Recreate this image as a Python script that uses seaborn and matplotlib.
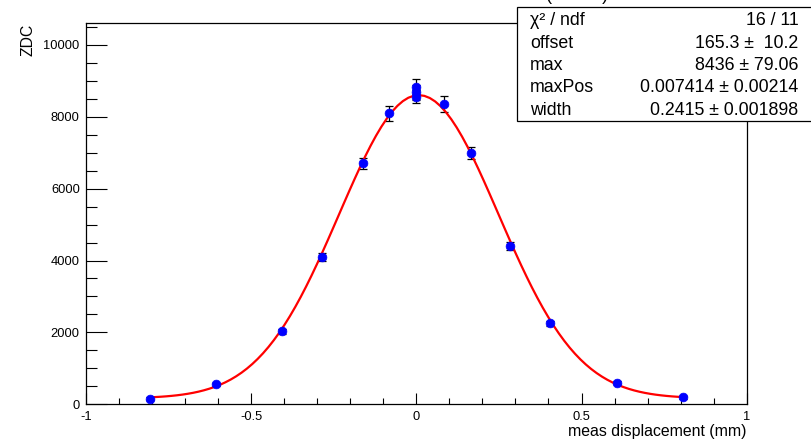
import numpy as np
import pandas as pd
import matplotlib
matplotlib.use("Agg")
import matplotlib.pyplot as plt
from matplotlib.patches import Rectangle
from matplotlib.ticker import MultipleLocator
import seaborn as sns

# ---- data ----
x_pos = [-0.806, -0.606, -0.406, -0.285, -0.163, -0.082, 0.0, 0.0, 0.0,
         0.083, 0.164, 0.285, 0.406, 0.606, 0.806]
zdc = [160, 560, 2030, 4100, 6705, 8100, 8830, 8680, 8560,
       8350, 6985, 4400, 2250, 605, 190]
zdc_err = [35, 45, 70, 110, 160, 205, 210, 200, 185,
           215, 165, 120, 70, 45, 35]

# fit parameters (from stats box)
fit_offset = 165.3
fit_max = 8436
fit_maxpos = 0.007414
fit_width = 0.2415

stat_labels = ["\u03c7\u00b2 / ndf", "offset", "max", "maxPos", "width"]
stat_values = ["16 / 11", "165.3 \u00b1  10.2", "8436 \u00b1 79.06",
               "0.007414 \u00b1 0.00214", "0.2415 \u00b1 0.001898"]

x_label = "meas displacement (mm)"
y_label = "ZDC"

# ---- figure ----
sns.set_theme(style="white")
plt.rcParams['font.family'] = ['Liberation Sans', 'DejaVu Sans']

W, H = 811, 441
fig = plt.figure(figsize=(W / 100, H / 100), dpi=100)
fig.patch.set_facecolor("white")

x0, x1, y0, y1 = 86, 746.7, 404.3, 23.3
ax = fig.add_axes([x0 / W, 1 - y0 / H, (x1 - x0) / W, (y0 - y1) / H])
ax.set_facecolor("white")

df = pd.DataFrame({"x": x_pos, "y": zdc, "err": zdc_err})

# fit curve
xf = np.linspace(min(x_pos), max(x_pos), 100)
yf = fit_offset + fit_max * np.exp(-0.5 * ((xf - fit_maxpos) / fit_width) ** 2)
fit_df = pd.DataFrame({"x": xf, "y": yf})

ax.errorbar(df["x"], df["y"], yerr=df["err"], fmt="none", ecolor="black",
            elinewidth=0.9, capsize=3.2, capthick=0.9, zorder=2)
sns.lineplot(data=fit_df, x="x", y="y", ax=ax, color="#ff0000", linewidth=1.6,
             zorder=3, legend=False)
sns.scatterplot(data=df, x="x", y="y", ax=ax, color="#0000ff", s=40,
                edgecolor="#0000ff", linewidth=0.5, zorder=4, legend=False)

ax.set_xlim(-1, 1)
ax.set_ylim(0, 10600)
ax.set_xlabel("")
ax.set_ylabel("")

ax.xaxis.set_major_locator(MultipleLocator(0.5))
ax.xaxis.set_minor_locator(MultipleLocator(0.1))
ax.yaxis.set_major_locator(MultipleLocator(2000))
ax.yaxis.set_minor_locator(MultipleLocator(500))
ax.set_xticks([-1, -0.5, 0, 0.5, 1])
ax.set_xticklabels(["-1", "-0.5", "0", "0.5", "1"])
ax.set_yticks([0, 2000, 4000, 6000, 8000, 10000])
ax.set_yticklabels(["0", "2000", "4000", "6000", "8000", "10000"])

ax.tick_params(axis="both", which="both", direction="in", colors="black",
               width=0.8, labelsize=9.3, top=False, right=False,
               bottom=True, left=True)
ax.tick_params(axis="x", which="major", length=7.9, pad=4.5)
ax.tick_params(axis="x", which="minor", length=4.1)
ax.tick_params(axis="y", which="major", length=15.1, pad=4.5)
ax.tick_params(axis="y", which="minor", length=7.7)
for s in ax.spines.values():
    s.set_visible(True)
    s.set_color("black")
    s.set_linewidth(0.9)
ax.grid(False)

# axis titles
fig.text(x1 / W, 1 - 431.7 / H, x_label, ha="right", va="center", fontsize=11.4,
         color="black")
fig.text(28.3 / W, 1 - 23.3 / H, y_label, ha="center", va="top", rotation=90,
         fontsize=11.3, color="black")

# partially visible title (cut off at top, as in the reference)
fig.text(577.5 / W, 1 - 0.5 / H, "(          )", ha="center", va="baseline",
         fontsize=13, color="black")

# stats box
bx0, by0, by1 = 516.7, 6.7, 121
rect = Rectangle((bx0 / W, 1 - by1 / H), (W + 10 - bx0) / W, (by1 - by0) / H,
                 transform=fig.transFigure, facecolor="white", edgecolor="black",
                 linewidth=0.9, zorder=10, clip_on=False)
fig.add_artist(rect)
baselines = [25, 47.5, 70, 92.5, 115]
for lab, val, b in zip(stat_labels, stat_values, baselines):
    t1 = fig.text(530 / W, 1 - b / H, lab, ha="left", va="baseline",
                  fontsize=12.8, color="black")
    t2 = fig.text(798.3 / W, 1 - b / H, val, ha="right", va="baseline",
                  fontsize=12.8, color="black")
    t1.set_zorder(11)
    t2.set_zorder(11)

fig.savefig("out.png", dpi=100, facecolor="white")
